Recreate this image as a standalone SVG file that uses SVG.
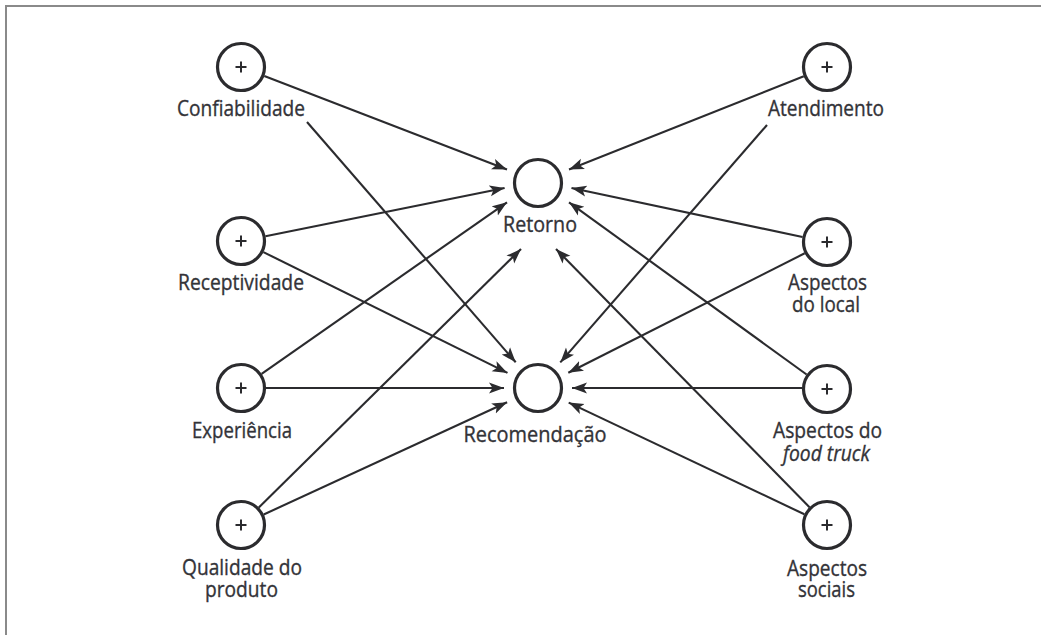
<svg xmlns="http://www.w3.org/2000/svg" width="1053" height="635" viewBox="0 0 1053 635">
<defs>
<marker id="arr" markerUnits="userSpaceOnUse" markerWidth="17" markerHeight="13" refX="15" refY="6" orient="auto">
<path d="M0,0.5 L15,6 L0,11.5 L3.5,6 Z" fill="#2b2b2e"/>
</marker>
<style>
.frame{stroke:#8a8a8a;stroke-width:2;fill:none}
.node{fill:#fff;stroke:#2b2b2e;stroke-width:3.2}
.plus{stroke:#2b2b2e;stroke-width:2;fill:none}
.edge{stroke:#2b2b2e;stroke-width:2.1;fill:none;marker-end:url(#arr)}
.lbl{font-family:"Open Sans","Liberation Sans",sans-serif;font-size:21.5px;fill:#333338;stroke:#333338;stroke-width:0.35;text-anchor:middle}
.it{font-style:italic}
</style>
</defs>
<rect width="1053" height="635" fill="#fff"/>
<path class="frame" d="M6,635 V6 H1041"/>
<g id="connectors">
<line class="edge" x1="264.3" y1="76.1" x2="507" y2="169.5"/>
<line class="edge" x1="307" y1="122" x2="515.7" y2="362.3"/>
<line class="edge" x1="265.5" y1="236.2" x2="504.6" y2="188"/>
<line class="edge" x1="261.6" y1="373.8" x2="507" y2="202.3"/>
<line class="edge" x1="263.4" y1="252.1" x2="507.5" y2="372.9"/>
<line class="edge" x1="266" y1="388" x2="504" y2="388"/>
<line class="edge" x1="258.8" y1="507.4" x2="521" y2="249"/>
<line class="edge" x1="263.7" y1="514.5" x2="507.1" y2="402.2"/>
<line class="edge" x1="803.8" y1="76.3" x2="569" y2="169.5"/>
<line class="edge" x1="767" y1="125" x2="560.3" y2="362.4"/>
<line class="edge" x1="802.5" y1="237" x2="571.5" y2="188"/>
<line class="edge" x1="804.7" y1="253.3" x2="568.3" y2="372.7"/>
<line class="edge" x1="806.6" y1="374.5" x2="569" y2="202.3"/>
<line class="edge" x1="802" y1="388" x2="572" y2="388"/>
<line class="edge" x1="809.5" y1="507.2" x2="556" y2="249"/>
<line class="edge" x1="804.4" y1="514.3" x2="568.7" y2="402.6"/>
</g>
<g id="retorno">
<circle class="node" cx="538" cy="183" r="23.5"/>
<text class="lbl" x="540" y="232" textLength="74" lengthAdjust="spacingAndGlyphs">Retorno</text>
</g>
<g id="recomendacao">
<circle class="node" cx="538" cy="388" r="23.5"/>
<text class="lbl" x="535" y="442" textLength="143" lengthAdjust="spacingAndGlyphs">Recomendação</text>
</g>
<g id="confiabilidade">
<circle class="node" cx="241" cy="67" r="23.5"/>
<path class="plus" d="M235.5,67 h11 M241,61.5 v11"/>
<text class="lbl" x="241" y="116" textLength="128" lengthAdjust="spacingAndGlyphs">Confiabilidade</text>
</g>
<g id="receptividade">
<circle class="node" cx="241" cy="241" r="23.5"/>
<path class="plus" d="M235.5,241 h11 M241,235.5 v11"/>
<text class="lbl" x="241" y="290" textLength="126" lengthAdjust="spacingAndGlyphs">Receptividade</text>
</g>
<g id="experiencia">
<circle class="node" cx="241" cy="388" r="23.5"/>
<path class="plus" d="M235.5,388 h11 M241,382.5 v11"/>
<text class="lbl" x="242" y="438" textLength="100" lengthAdjust="spacingAndGlyphs">Experiência</text>
</g>
<g id="qualidade">
<circle class="node" cx="241" cy="525" r="23.5"/>
<path class="plus" d="M235.5,525 h11 M241,519.5 v11"/>
<text class="lbl"><tspan x="242" y="575" textLength="120" lengthAdjust="spacingAndGlyphs">Qualidade do</tspan><tspan x="241.5" y="597" textLength="73" lengthAdjust="spacingAndGlyphs">produto</tspan></text>
</g>
<g id="atendimento">
<circle class="node" cx="827" cy="67" r="23.5"/>
<path class="plus" d="M821.5,67 h11 M827,61.5 v11"/>
<text class="lbl" x="826" y="116" textLength="116" lengthAdjust="spacingAndGlyphs">Atendimento</text>
</g>
<g id="aspectos-local">
<circle class="node" cx="827" cy="242" r="23.5"/>
<path class="plus" d="M821.5,242 h11 M827,236.5 v11"/>
<text class="lbl"><tspan x="827.5" y="290" textLength="79" lengthAdjust="spacingAndGlyphs">Aspectos</tspan><tspan x="826" y="312" textLength="68" lengthAdjust="spacingAndGlyphs">do local</tspan></text>
</g>
<g id="aspectos-foodtruck">
<circle class="node" cx="827" cy="389" r="23.5"/>
<path class="plus" d="M821.5,389 h11 M827,383.5 v11"/>
<text class="lbl"><tspan x="827.5" y="438" textLength="109" lengthAdjust="spacingAndGlyphs">Aspectos do</tspan><tspan class="it" x="826.5" y="461" textLength="87" lengthAdjust="spacingAndGlyphs">food truck</tspan></text>
</g>
<g id="aspectos-sociais">
<circle class="node" cx="827" cy="525" r="23.5"/>
<path class="plus" d="M821.5,525 h11 M827,519.5 v11"/>
<text class="lbl"><tspan x="827" y="576" textLength="80" lengthAdjust="spacingAndGlyphs">Aspectos</tspan><tspan x="826.5" y="597" textLength="57" lengthAdjust="spacingAndGlyphs">sociais</tspan></text>
</g>
</svg>
